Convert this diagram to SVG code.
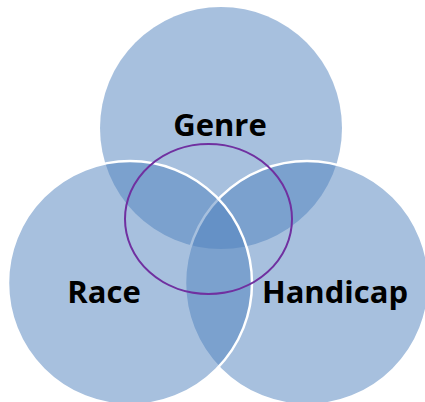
<svg xmlns="http://www.w3.org/2000/svg" width="425" height="402" viewBox="0 0 425 402">
<style>
.set{fill:#4F81BD;fill-opacity:0.5;stroke:#FFFFFF;stroke-width:2.5}
.nostroke{stroke:none}
.lbl{font-family:"Open Sans","Liberation Sans",sans-serif;font-weight:bold;font-size:31px;fill:#000000;text-anchor:middle}
</style>
<rect width="425" height="402" fill="#FFFFFF"/>
<g id="genre"><circle class="set nostroke" cx="221" cy="128" r="121"/></g>
<g id="handicap"><circle class="set" cx="307" cy="283" r="122"/></g>
<g id="race"><circle class="set" cx="130" cy="283" r="122"/></g>
<g id="overlap"><ellipse cx="208.5" cy="219" rx="83.5" ry="75" fill="none" stroke="#7030A0" stroke-width="2"/></g>
<g id="labels">
<text class="lbl" x="220" y="136">Genre</text>
<text class="lbl" x="104" y="303">Race</text>
<text class="lbl" x="335" y="303">Handicap</text>
</g>
</svg>
